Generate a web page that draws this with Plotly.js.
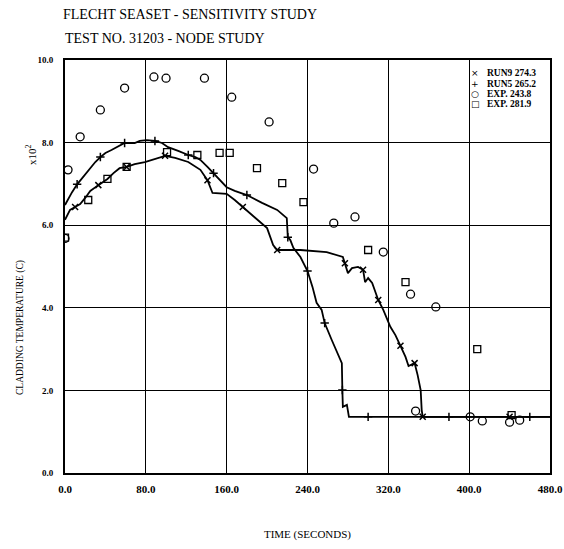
<!DOCTYPE html>
<html><head><meta charset="utf-8">
<script src="https://cdn.plot.ly/plotly-3.0.1.min.js"></script>
<style>html,body{margin:0;padding:0;background:#fff}#chart{width:564px;height:549px}</style>
</head><body><div id="chart"></div>
<script>
// RUN5 265.2 (upper curve, + markers)
const run5Time = [0,3,7,12,17,23,30,35,40,46,52,59,69,74,81,89,96,102,112,122,129,134,141,147,153,160,168,180,195,210,219.5,220.5,223,226,233,240,245,249,254,257,264,272,274,274.5,275,279,281,300,320,340,360,380,400,420,440,460,480];
const run5Temp = [6.49,6.63,6.80,6.99,7.14,7.34,7.53,7.65,7.75,7.82,7.89,7.99,7.99,8.04,8.06,8.04,7.99,7.89,7.80,7.70,7.65,7.58,7.41,7.26,7.09,6.92,6.83,6.73,6.54,6.37,6.17,5.71,5.64,5.45,5.23,4.89,4.50,4.12,3.95,3.63,3.22,2.78,2.66,2.01,1.60,1.65,1.36,1.36,1.36,1.36,1.36,1.36,1.36,1.36,1.36,1.36,1.36];
// RUN9 274.3 (lower curve, x markers)
const run9Time = [0,5,10,15,20,25,33,42,48,54,61,69,79,89,99,109,122,134,141,146,160,168,176,190,200,206,210,233,259,275,277,280,284,290,295,297,300,304,310,315,322,327,332,337,340,343,346,349,352,353,354,380,400,420,440,460,480];
const run9Temp = [6.13,6.37,6.44,6.51,6.66,6.83,6.97,7.12,7.26,7.38,7.41,7.48,7.53,7.60,7.68,7.63,7.53,7.34,7.09,6.78,6.76,6.61,6.44,6.13,5.93,5.52,5.40,5.40,5.35,5.23,5.08,4.84,4.96,4.99,4.92,4.62,4.72,4.60,4.19,3.95,3.54,3.34,3.08,2.81,2.59,2.62,2.66,2.37,2.01,1.53,1.36,1.36,1.36,1.36,1.36,1.36,1.36];
// EXP. 243.8 (circles)
const exp1Time = [0,3,15,35,59,88,100,138,165,202,246,266,287,315,342,347,367,401,413,440,450];
const exp1Temp = [5.68,7.34,8.14,8.79,9.32,9.59,9.56,9.56,9.10,8.50,7.36,6.05,6.20,5.35,4.33,1.50,4.02,1.36,1.26,1.23,1.28];
// EXP. 281.9 (squares)
const exp2Time = [0,23,42,61,101,131,153,163,190,215,236,300,337,408,442];
const exp2Temp = [5.70,6.61,7.12,7.41,7.77,7.70,7.75,7.75,7.38,7.02,6.56,5.40,4.62,3.00,1.40];

const xTicks = [0,80,160,240,320,400,480];
const yTicks = [0,2,4,6,8,10];
const legendLabels = ['RUN9 274.3','RUN5 265.2','EXP. 243.8','EXP. 281.9'];
const legendGlyphs = ['\u00D7','+','\u25CB','\u25A1'];

const serif = '"Liberation Serif", "Times New Roman", serif';
const every = (arr, n, off) => arr.filter((_, i) => (i + off) % n === 0);

const traces = [
  {x: run5Time, y: run5Temp, mode: 'lines', line: {color: '#000', width: 1.8}, showlegend: false, hoverinfo: 'skip'},
  {x: run9Time, y: run9Temp, mode: 'lines', line: {color: '#000', width: 1.8}, showlegend: false, hoverinfo: 'skip'},
  {x: every(run5Time, 4, 1), y: every(run5Temp, 4, 1), mode: 'markers', name: 'RUN5 265.2',
   marker: {symbol: 'cross-thin-open', size: 6, color: '#000', line: {color: '#000', width: 1.5}}, showlegend: false},
  {x: every(run9Time, 4, 2), y: every(run9Temp, 4, 2), mode: 'markers', name: 'RUN9 274.3',
   marker: {symbol: 'x-thin-open', size: 6, color: '#000', line: {color: '#000', width: 1.5}}, showlegend: false},
  {x: exp1Time, y: exp1Temp, mode: 'markers', name: 'EXP. 243.8',
   marker: {symbol: 'circle-open', size: 8, color: '#000', line: {color: '#000', width: 1.3}}, showlegend: false},
  {x: exp2Time, y: exp2Temp, mode: 'markers', name: 'EXP. 281.9',
   marker: {symbol: 'square-open', size: 7, color: '#000', line: {color: '#000', width: 1.3}}, showlegend: false}
];

const px2x = p => (p - 65) / 485;
const px2y = p => (473 - p) / 413;

const annotations = [
  {text: 'TEST NO. 31203 - NODE STUDY', xref: 'paper', yref: 'paper', x: px2x(63), y: px2y(38),
   xanchor: 'left', yanchor: 'middle', showarrow: false, font: {family: serif, size: 14, color: '#000'}},
  {text: 'CLADDING TEMPERATURE (C)', xref: 'paper', yref: 'paper', x: px2x(20), y: px2y(328),
   xanchor: 'center', yanchor: 'middle', textangle: -90, showarrow: false, font: {family: serif, size: 9.5, color: '#000'}},
  {text: 'x10<sup>2</sup>', xref: 'paper', yref: 'paper', x: px2x(31), y: px2y(155),
   xanchor: 'center', yanchor: 'middle', textangle: -90, showarrow: false, font: {family: serif, size: 11, color: '#000'}}
];
const rowsY = [73, 84, 94, 104];
legendLabels.forEach((lab, i) => {
  annotations.push({text: legendGlyphs[i], xref: 'paper', yref: 'paper', x: px2x(475), y: px2y(rowsY[i]),
    xanchor: 'center', yanchor: 'middle', showarrow: false, font: {family: 'DejaVu Sans', size: 9, color: '#000'}});
  annotations.push({text: '<b>' + lab + '</b>', xref: 'paper', yref: 'paper', x: px2x(485), y: px2y(rowsY[i]),
    xanchor: 'left', yanchor: 'middle', showarrow: false, font: {family: serif, size: 9.5, color: '#000'}});
});

const layout = {
  width: 564, height: 549,
  margin: {l: 65, r: 14, t: 60, b: 76, pad: 0},
  paper_bgcolor: '#fff', plot_bgcolor: '#fff',
  showlegend: false,
  title: {text: 'FLECHT SEASET - SENSITIVITY STUDY', x: 63/564, xanchor: 'left', xref: 'container',
          y: 1 - 14/549, yanchor: 'middle', yref: 'container', font: {family: serif, size: 14, color: '#000'}},
  xaxis: {range: [0, 480], tickvals: xTicks, ticktext: xTicks.map(v => '<b>' + v.toFixed(1) + '</b>'),
          showgrid: true, gridcolor: '#000', gridwidth: 1, zeroline: false,
          showline: true, mirror: true, linecolor: '#000', linewidth: 2, ticks: '',
          ticklabelstandoff: 5, tickfont: {family: serif, size: 11, color: '#000'},
          title: {text: 'TIME (SECONDS)', standoff: 36, font: {family: serif, size: 11, color: '#000'}},
          automargin: false, fixedrange: true},
  yaxis: {range: [0, 10], tickvals: yTicks, ticktext: yTicks.map(v => '<b>' + v.toFixed(1) + '</b>'),
          showgrid: true, gridcolor: '#000', gridwidth: 1, zeroline: false,
          showline: true, mirror: true, linecolor: '#000', linewidth: 2, ticks: '',
          ticklabelstandoff: 8, tickfont: {family: serif, size: 9, color: '#000'},
          automargin: false, fixedrange: true},
  annotations: annotations
};

Plotly.newPlot('chart', traces, layout, {staticPlot: true, displayModeBar: false});
</script>
</body></html>
